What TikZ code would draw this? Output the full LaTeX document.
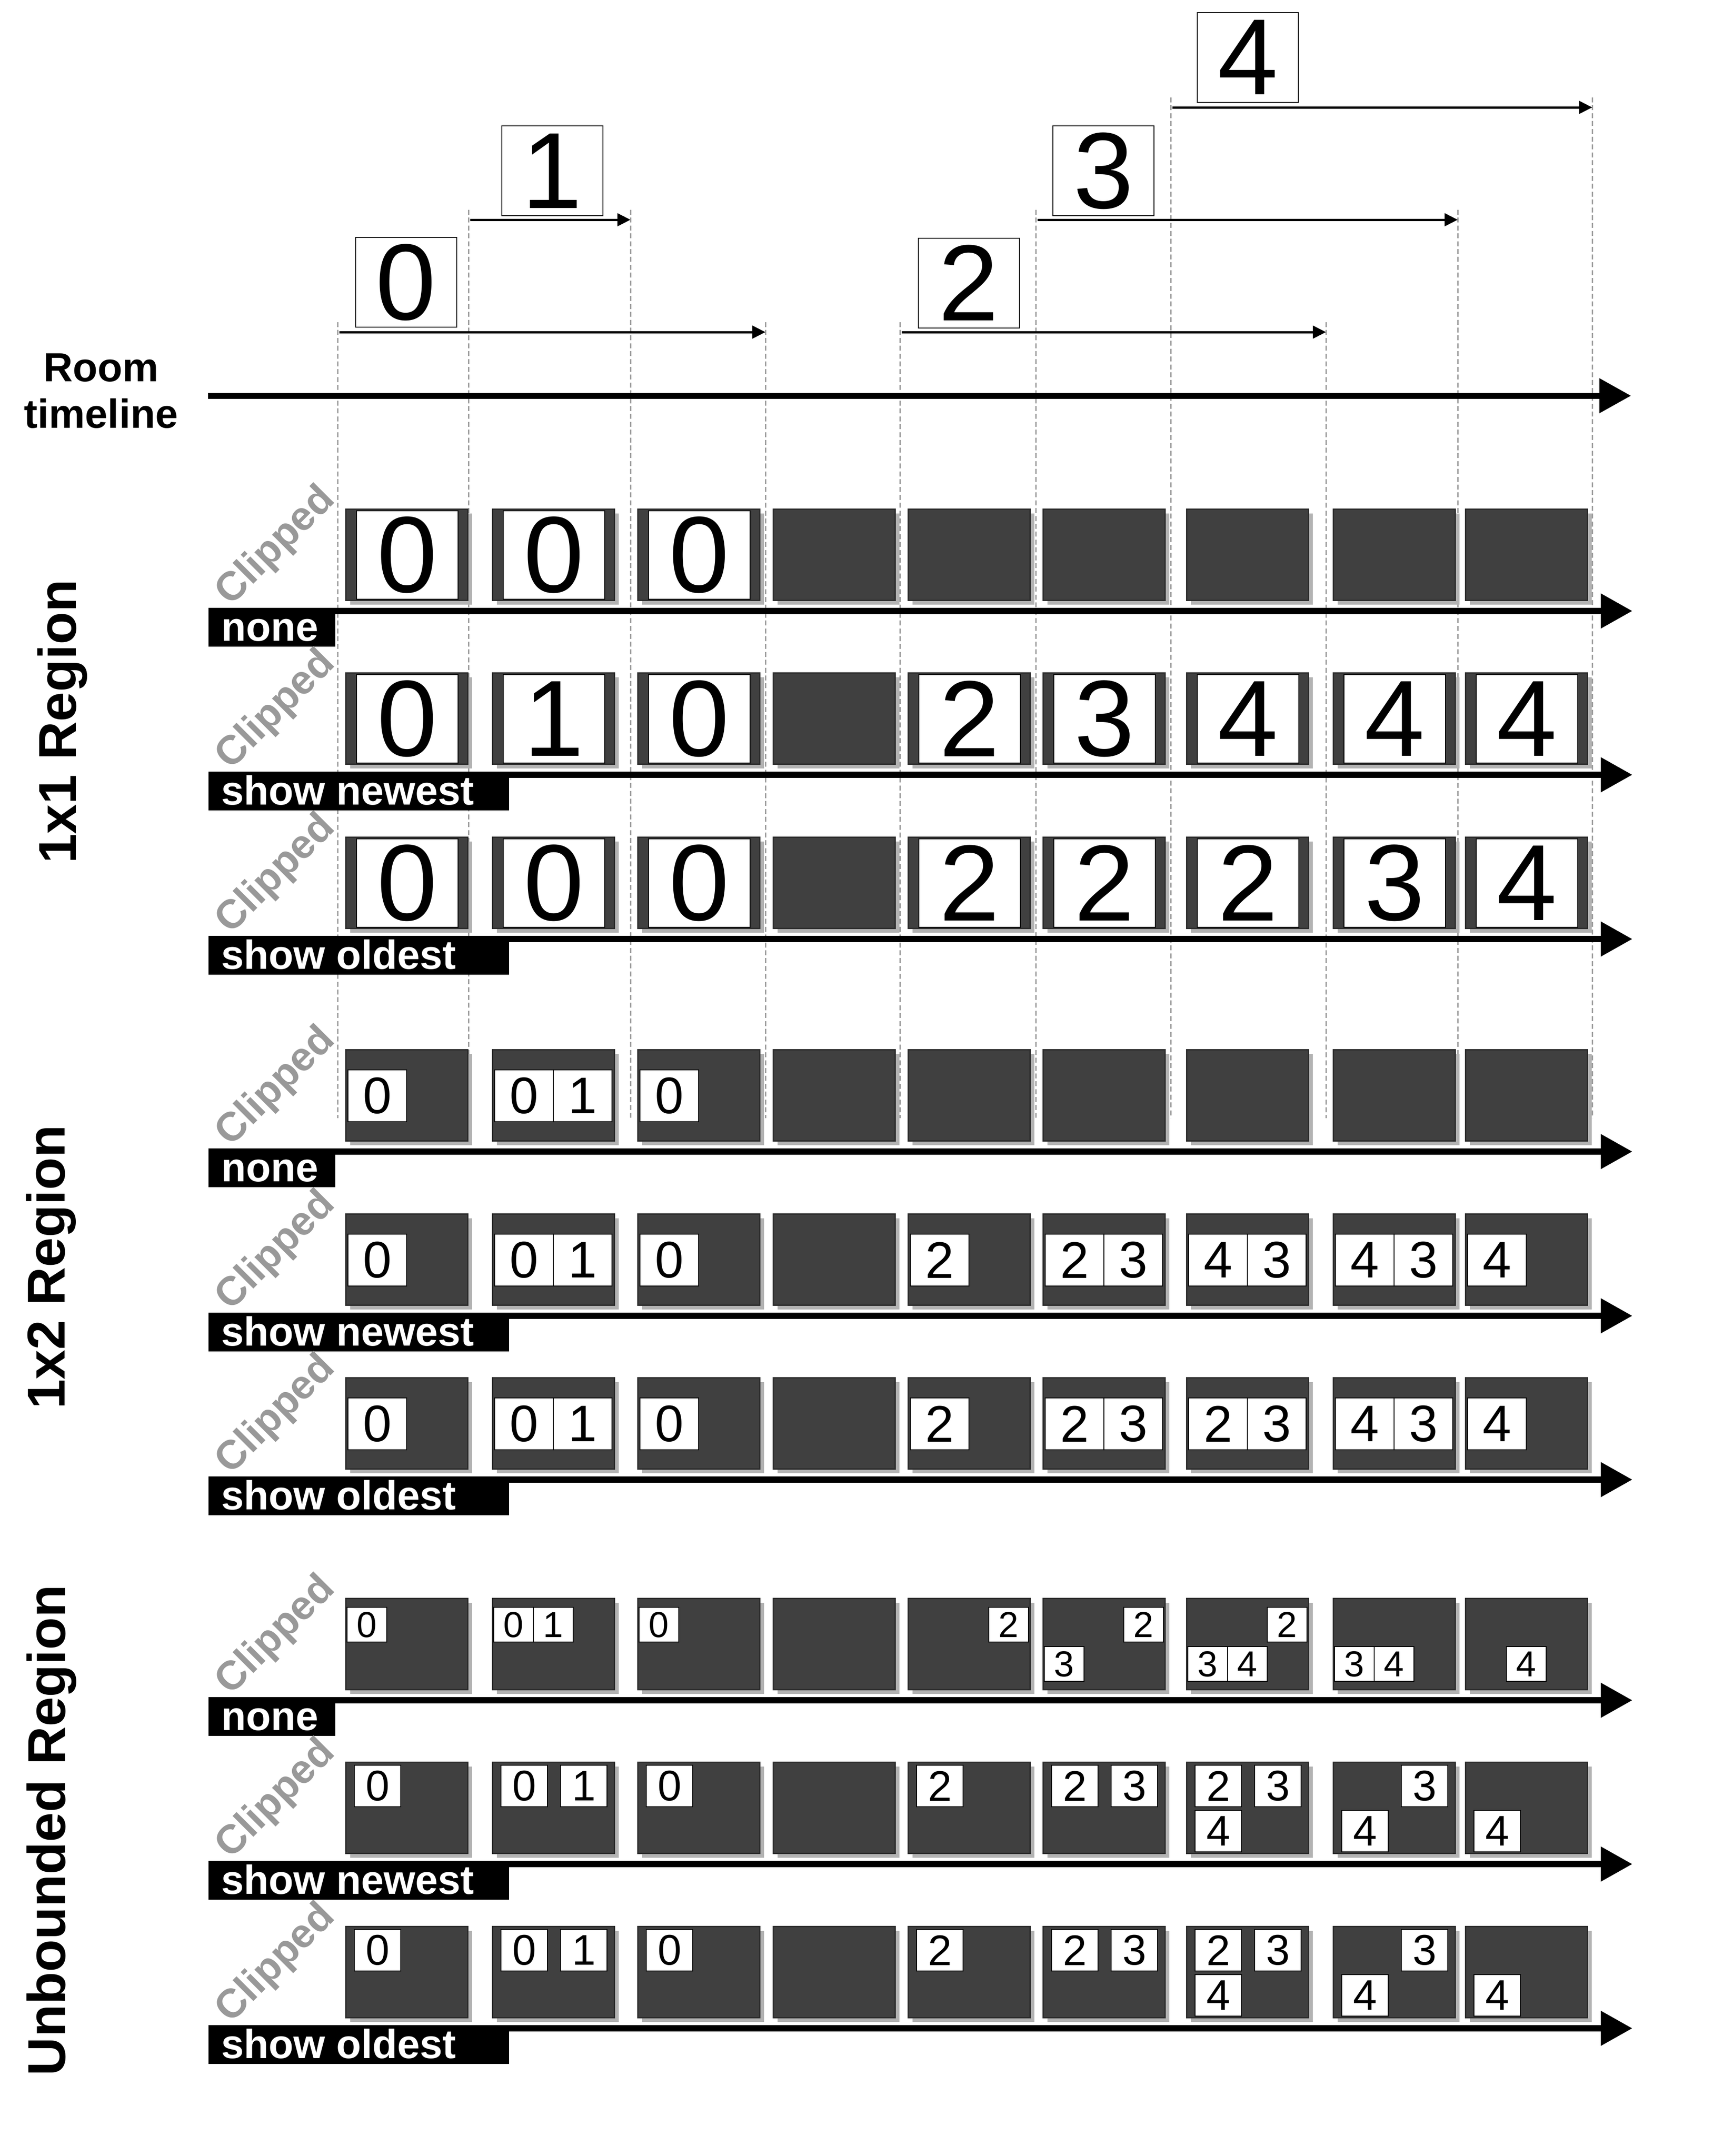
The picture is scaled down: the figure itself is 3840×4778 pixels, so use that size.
\documentclass[tikz,border=0pt]{standalone}
\usepackage{fontspec}
\setmainfont{Liberation Sans}
\usetikzlibrary{arrows.meta}
\definecolor{dk}{HTML}{404040}
\definecolor{dkline}{HTML}{2C2C2C}
\definecolor{shd}{HTML}{B3B3B3}
\definecolor{clipgray}{HTML}{999999}
\definecolor{dashgray}{HTML}{9C9C9C}
\newcommand\colL[1]{\pgfmathsetmacro\L{{766,1091,1413,1713,2012,2311,2629,2954,3247}[#1-1]}}
\newcommand\oneone[3]{\colL{#2}\node[wbig] (wa#1-#2) at (\L+136,#1-124) {#3};}
\newcommand\onetwo[4]{\colL{#2}\node[wmid] (wb#1-#2-#3) at (\L+70+130*#3,#1-123.5) {#4};}
\newcommand\ubnone[5]{\colL{#2}\node[wsmall] (wc#1-#2-#3-#4) at (\L+47+88*#3,#1-167.5+87*#4) {#5};}
\newcommand\ubshow[5]{\colL{#2}\node[wub] (wd#1-#2-#3-#4) at (\L+70.5+132*#3,#1-173+100*#4) {#5};}
\begin{document}
\begin{tikzpicture}[x=0.25pt,y=-0.25pt,
  dashline/.style={draw=dashgray, line width=0.75pt, dash pattern=on 2.75pt off 1.6pt},
  numbox/.style={draw=black, line width=0.5pt, fill=white, minimum width=56pt, minimum height=49.75pt, inner sep=0pt, outer sep=0pt, font=\fontsize{60}{60}\selectfont},
  toparrow/.style={draw=black, line width=1.25pt, -{Triangle[length=7.25pt,width=7pt]}},
  axisarrow/.style={draw=black, line width=3.5pt, -{Triangle[length=17.5pt,width=18.5pt]}},
  roomlbl/.style={font=\bfseries\fontsize{22.5}{27}\selectfont, inner sep=0pt},
  labrect/.style={fill=black, draw=none, inner sep=0pt, outer sep=0pt, minimum height=21.5pt, anchor=north west},
  labtext/.style={text=white, font=\bfseries\fontsize{22.5}{27}\selectfont, inner sep=0pt, anchor=base west},
  cliptext/.style={text=clipgray, font=\bfseries\fontsize{22.5}{27}\selectfont, inner sep=0pt, rotate=45},
  reglbl/.style={font=\bfseries\fontsize{29.5}{35}\selectfont, inner sep=0pt, rotate=90, anchor=base},
  darkbox/.style={fill=dk, draw=dkline, line width=0.75pt, minimum width=67.5pt, minimum height=50.5pt, inner sep=0pt, outer sep=0pt},
  shadowbox/.style={fill=shd, draw=none, minimum width=67.5pt, minimum height=50.5pt, inner sep=0pt, outer sep=0pt},
  wbig/.style={fill=white, draw=black, line width=0.5pt, minimum width=56.25pt, minimum height=49pt, inner sep=0pt, font=\fontsize{60}{60}\selectfont},
  wmid/.style={fill=white, draw=black, line width=0.5pt, minimum width=32.5pt, minimum height=28.75pt, inner sep=0pt, font=\fontsize{28.5}{30}\selectfont},
  wsmall/.style={fill=white, draw=black, line width=0.5pt, minimum width=22pt, minimum height=19.25pt, inner sep=0pt, font=\fontsize{20}{22}\selectfont},
  wub/.style={fill=white, draw=black, line width=0.5pt, minimum width=25.75pt, minimum height=23pt, inner sep=0pt, font=\fontsize{23.75}{25}\selectfont}
]
\fill[white] (0,0) rectangle (3840,4778);
\useasboundingbox (0,0) rectangle (3840,4778);

% dashed guide lines
\foreach \i/\x/\t in {1/748/714, 2/1038/465, 3/1397/465, 4/1696/714, 5/1994/714, 6/2295/465, 7/2594/216, 8/2938/714, 9/3230/465, 10/3528/216} {
  \coordinate (dt\i) at (\x,\t);
  \coordinate (db\i) at (\x,2478);
  \draw[dashline] (dt\i) -- (db\i);
}

% top event boxes
\foreach \n/\x/\y in {0/899.5/625.5, 1/1223.5/378.5, 2/2146.5/627, 3/2445/378.5, 4/2765/127}
  \node[numbox] (t\n) at (\x,\y) {\n};
\foreach \n/\xa/\xb/\y in {0/752/1696/736, 1/1042/1397/487, 2/1998/2938/736, 3/2299/3230/487, 4/2598/3528/238} {
  \coordinate (as\n) at (\xa,\y);
  \coordinate (ae\n) at (\xb,\y);
  \draw[toparrow] (as\n) -- (ae\n);
}

% room timeline
\node[roomlbl, anchor=base] (room1) at (224,845) {Room};
\node[roomlbl, anchor=base] (room2) at (224,948) {timeline};
\coordinate (rt0) at (461,877);
\coordinate (rt1) at (3614,877);
\draw[axisarrow, line width=3.25pt] (rt0) -- (rt1);

% rows
\foreach \r/\Y/\lab/\lw in {1/1354/none/70.25, 2/1717/show newest/166.5, 3/2081/show oldest/166.5,
                            4/2552/none/70.25, 5/2916/show newest/166.5, 6/3279/show oldest/166.5,
                            7/3768/none/70.25, 8/4131/show newest/166.5, 9/4495/show oldest/166.5} {
  \foreach \c in {1,...,9} {
    \colL{\c}
    \node[shadowbox] (s\r-\c) at (\L+145,\Y-115) {};
    \node[darkbox] (d\r-\c) at (\L+135,\Y-125) {};
  }
  \coordinate (ax\r) at (462,\Y);
  \coordinate (bx\r) at (3617,\Y);
  \draw[axisarrow] (ax\r) -- (bx\r);
  \node[labrect, minimum width=\lw pt] (lr\r) at (462,\Y-7) {};
  \node[labtext] (lt\r) at (490,\Y+66) {\lab};
  \node[cliptext] (cl\r) at (612,\Y-143) {Clipped};
}

% 1x1 region contents
\foreach \c/\d in {1/0,2/0,3/0} {\oneone{1354}{\c}{\d}}
\foreach \c/\d in {1/0,2/1,3/0,5/2,6/3,7/4,8/4,9/4} {\oneone{1717}{\c}{\d}}
\foreach \c/\d in {1/0,2/0,3/0,5/2,6/2,7/2,8/3,9/4} {\oneone{2081}{\c}{\d}}

% 1x2 region contents
\foreach \c/\s/\d in {1/0/0,2/0/0,2/1/1,3/0/0} {\onetwo{2552}{\c}{\s}{\d}}
\foreach \c/\s/\d in {1/0/0,2/0/0,2/1/1,3/0/0,5/0/2,6/0/2,6/1/3,7/0/4,7/1/3,8/0/4,8/1/3,9/0/4} {\onetwo{2916}{\c}{\s}{\d}}
\foreach \c/\s/\d in {1/0/0,2/0/0,2/1/1,3/0/0,5/0/2,6/0/2,6/1/3,7/0/2,7/1/3,8/0/4,8/1/3,9/0/4} {\onetwo{3279}{\c}{\s}{\d}}

% unbounded region contents
\foreach \c/\sx/\sy/\d in {1/0/0/0,2/0/0/0,2/1/0/1,3/0/0/0,5/2/0/2,6/2/0/2,6/0/1/3,7/2/0/2,7/0/1/3,7/1/1/4,8/0/1/3,8/1/1/4,9/1/1/4} {\ubnone{3768}{\c}{\sx}{\sy}{\d}}
\foreach \c/\sx/\sy/\d in {1/0/0/0,2/0/0/0,2/1/0/1,3/0/0/0,5/0/0/2,6/0/0/2,6/1/0/3,7/0/0/2,7/1/0/3,7/0/1/4,8/1/0/3,8/0/1/4,9/0/1/4} {\ubshow{4131}{\c}{\sx}{\sy}{\d}}
\foreach \c/\sx/\sy/\d in {1/0/0/0,2/0/0/0,2/1/0/1,3/0/0/0,5/0/0/2,6/0/0/2,6/1/0/3,7/0/0/2,7/1/0/3,7/0/1/4,8/1/0/3,8/0/1/4,9/0/1/4} {\ubshow{4495}{\c}{\sx}{\sy}{\d}}

% region labels
\node[reglbl] (reg1) at (168,1599) {1x1 Region};
\node[reglbl] (reg2) at (143,2808) {1x2 Region};
\node[reglbl] (reg3) at (144,4056) {Unbounded Region};
\end{tikzpicture}
\end{document}
